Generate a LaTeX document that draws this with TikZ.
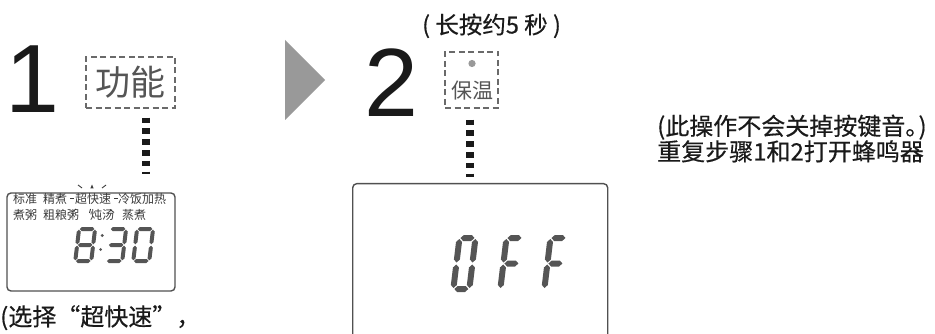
\documentclass[tikz,border=0pt]{standalone}
\usepackage{fontspec}
\setmainfont{Liberation Sans}
\newfontfamily\cjk{Noto Sans CJK SC}
\newfontfamily\cjkb[FakeBold=0.5]{Noto Sans CJK SC}
\usetikzlibrary{calc}
\definecolor{ink}{HTML}{1A1A1A}
\definecolor{segc}{HTML}{555555}
\definecolor{lcdtext}{HTML}{3A3A3A}
\definecolor{dashc}{HTML}{6A6A6A}
\definecolor{trig}{HTML}{999999}
\definecolor{lcdline}{HTML}{505050}
\newcommand\hsegm[3]{\fill ({#1},{#3}) -- ({#1+\sh},{#3+\sh}) -- ({#2-\sh},{#3+\sh}) -- ({#2},{#3}) -- ({#2-\sh},{#3-\sh}) -- ({#1+\sh},{#3-\sh}) -- cycle;}
\newcommand\vsegm[3]{\fill ({#1},{#2}) -- ({#1+\sh},{#2+\sh}) -- ({#1+\sh},{#3-\sh}) -- ({#1},{#3}) -- ({#1-\sh},{#3-\sh}) -- ({#1-\sh},{#2+\sh}) -- cycle;}
\newcommand\sega{\hsegm{\xl+\gp}{\xr-\gp}{\yt}}
\newcommand\segd{\hsegm{\xl+\gp}{\xr-\gp}{\yb}}
\newcommand\segg{\hsegm{\xl+\gp}{\xr-\gp}{\ym}}
\newcommand\segb{\vsegm{\xr}{\ym+\gp}{\yt-\gp}}
\newcommand\segc{\vsegm{\xr}{\yb+\gp}{\ym-\gp}}
\newcommand\sege{\vsegm{\xl}{\yb+\gp}{\ym-\gp}}
\newcommand\segf{\vsegm{\xl}{\ym+\gp}{\yt-\gp}}
% #1 x, #2 y of bottom, #3 width, #4 height, #5 thickness, #6 gap, #7 segment list
\newcommand\sevenseg[7]{%
\begin{scope}[shift={(#1,#2)},yscale=-1,xslant=-0.12,segc]
\pgfmathsetmacro\sh{#5/2}
\pgfmathsetmacro\xl{#5/2}
\pgfmathsetmacro\xr{#3-#5/2}
\pgfmathsetmacro\yb{#5/2}
\pgfmathsetmacro\yt{#4-#5/2}
\pgfmathsetmacro\ym{#4/2}
\pgfmathsetmacro\gp{#6}
\foreach \s in {#7}{\csname seg\s\endcsname}
\end{scope}}
\tikzset{
  dbox/.style={draw=dashc, line width=1.3pt, dash pattern=on 6pt off 3.5pt, inner sep=0pt},
  lcdbox/.style={draw=lcdline, line width=1.4pt, rounded corners=4pt, inner sep=0pt},
  dotline/.style={draw=ink, line width=8pt, dash pattern=on 5.6pt off 5.2pt},
  lcdword/.style={font=\cjk\fontsize{12}{12}\selectfont, text=lcdtext, inner sep=0pt, anchor=base west},
  ray/.style={draw=lcdtext, line width=0.9pt},
  bignum/.style={font=\fontsize{97}{97}\selectfont, text=ink, inner sep=0pt},
  cjktext/.style={font=\cjkb\fontsize{24}{27}\selectfont, text=ink, inner sep=0pt, anchor=base west}
}
\begin{document}
\begin{tikzpicture}[x=1pt,y=-1pt]
\useasboundingbox (0,0) rectangle (935,334);
\clip (0,0) rectangle (935,334);
% step 1
\node[bignum] (n1) at (32,79.5) {1};
\node[dbox, minimum width=89pt, minimum height=51pt, font=\cjk\fontsize{35}{35}\selectfont, text=segc] (fn) at (130.5,82.5) {功能};
\node[lcdbox, minimum width=168pt, minimum height=98pt] (lcd1) at (91,242) {};
\coordinate (d1) at (146,0);
\draw[dotline] ($(fn.south -| d1)+(0,9)$) -- ($(lcd1.north -| d1)+(0,-18)$);
% lcd 1 words
\node[lcdword] (w1) at (13,203.5) {标准};
\node[lcdword] (w2) at (43,203.5) {精煮};
\node[lcdword] (w3) at (75,203.5) {超快速};
\node[lcdword] (w4) at (118,203.5) {冷饭加热};
\node[lcdword] (w5) at (13,219) {煮粥};
\node[lcdword] (w6) at (43,219) {粗粮粥};
\node[lcdword] (w7) at (90,219) {炖汤};
\node[lcdword] (w8) at (122,219) {蒸煮};
% blinking rays
\draw[ray] (78,185) -- (82,188);
\fill[lcdtext] (90.3,188.5) -- (92,184.5) -- (93.7,188.5) -- cycle;
\draw[ray] (106,185) -- (102,188);
\draw[ray] (114,198.5) -- (118,198.5);
\draw[ray] (70,198.5) -- (74,198.5);
\draw[ray] (72,212) -- (76,209);
\draw[ray] (89.5,213) -- (90.5,209);
\draw[ray] (114,212.5) -- (110,209.5);
% 8:30
\sevenseg{73}{263}{20}{36}{4}{0.7}{a,b,c,d,e,f,g}
\fill[segc] (102.2,235.5) circle (1.6);
\fill[segc] (100.6,249.5) circle (1.6);
\sevenseg{104}{263}{20}{36}{4}{0.7}{a,b,c,d,g}
\sevenseg{131}{263}{20}{36}{4}{0.7}{a,b,c,d,e,f}
\node[cjktext] (sel) at (0,325.5) {(选择“超快速”，};
% arrow triangle
\fill[trig] (285,40) -- (285,120) -- (325,80) -- cycle;
% step 2
\node[bignum] (n2) at (391.5,83) {2};
\node[cjktext, font=\cjkb\fontsize{23.5}{23.5}\selectfont] (hold) at (422,33.5) {( 长按约5 秒 )};
\node[dbox, minimum width=53pt, minimum height=56pt] (bw) at (471.5,80) {};
\fill[trig] (472,63.5) circle (3.6);
\node[font=\cjk\fontsize{21}{21}\selectfont, text=segc, inner sep=0pt] (bwt) at (472,91) {保温};
\node[lcdbox, minimum width=255pt, minimum height=170pt, anchor=north west] (lcd2) at (352,183) {};
\coordinate (d2) at (470,0);
\draw[dotline] ($(bw.south -| d2)+(0,11)$) -- ($(lcd2.north -| d2)+(0,-6)$);
% OFF
\sevenseg{450}{292}{22}{57}{6}{1}{a,b,c,d,e,f}
\sevenseg{497}{292}{22}{57}{6}{1}{a,e,f,g}
\sevenseg{541}{292}{22}{57}{6}{1}{a,e,f,g}
% note
\node[cjktext] (note1) at (657,135) {(此操作不会关掉按键音。\kern-0.45em)};
\node[cjktext] (note2) at (657,160.5) {重复步骤1和2打开蜂鸣器};
\end{tikzpicture}
\end{document}
